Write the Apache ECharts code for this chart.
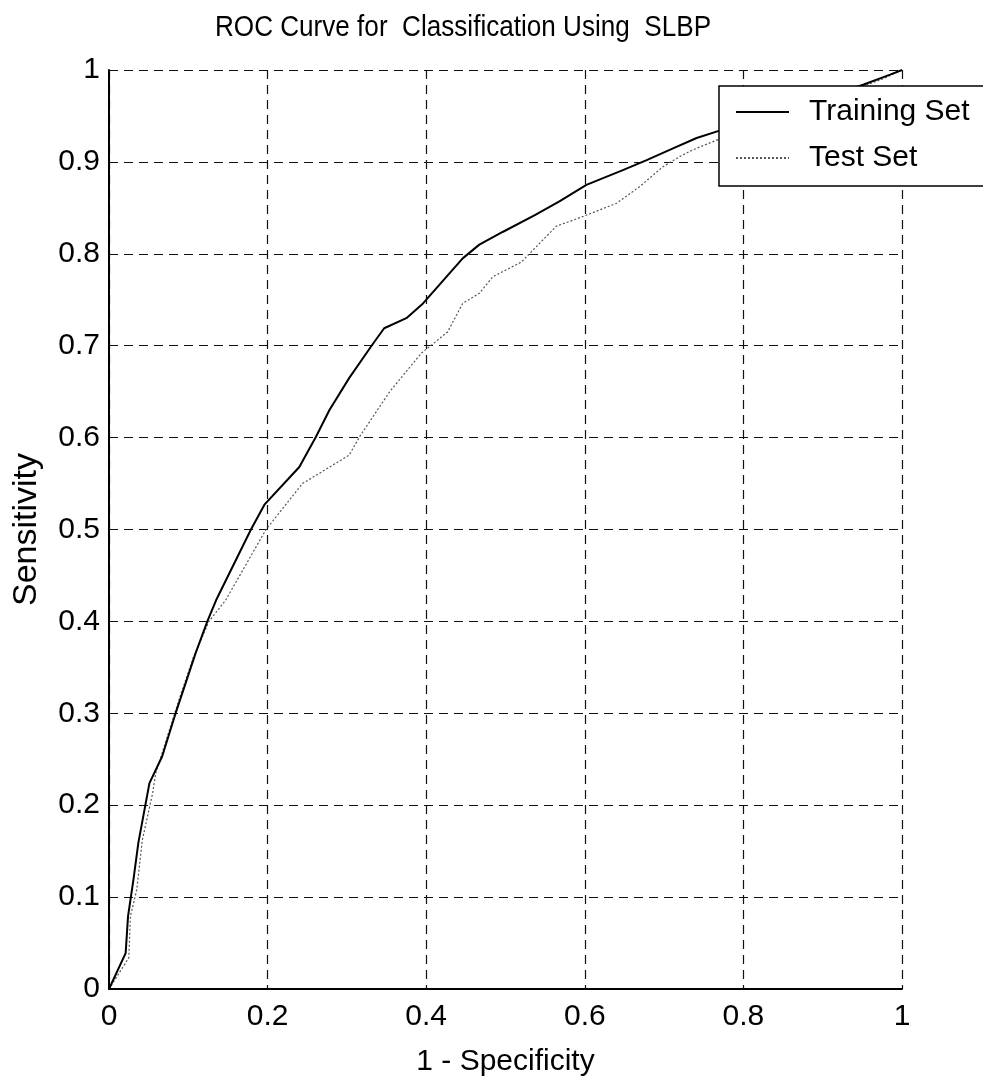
<!DOCTYPE html>
<html>
<head>
<meta charset="utf-8">
<title>ROC Curve</title>
<script src="https://cdn.jsdelivr.net/npm/echarts@6/dist/echarts.min.js"></script>
<style>
  html, body { margin: 0; padding: 0; background: #fff; }
  #chart { width: 983px; height: 1085px; }
</style>
</head>
<body>
<div id="chart"></div>
<script>
// Axis ticks
const xTickValues = [0, 0.2, 0.4, 0.6, 0.8, 1];
const yTickValues = [0, 0.1, 0.2, 0.3, 0.4, 0.5, 0.6, 0.7, 0.8, 0.9, 1];

// Series names
const seriesNames = ['Training Set', 'Test Set'];

// ROC points: [1 - specificity, sensitivity]
const trainingSet = [
  [0, 0], [0.021, 0.039], [0.024, 0.079], [0.031, 0.12], [0.037, 0.159],
  [0.051, 0.224], [0.067, 0.253], [0.084, 0.30], [0.109, 0.365], [0.124, 0.40],
  [0.135, 0.423], [0.179, 0.50], [0.196, 0.527], [0.240, 0.568], [0.261, 0.601],
  [0.278, 0.630], [0.303, 0.665], [0.332, 0.701], [0.347, 0.719], [0.375, 0.730],
  [0.396, 0.746], [0.446, 0.795], [0.467, 0.810], [0.497, 0.824], [0.537, 0.842],
  [0.568, 0.857], [0.602, 0.875], [0.648, 0.891], [0.678, 0.902], [0.707, 0.913],
  [0.741, 0.926], [0.770, 0.934], [0.86, 0.958], [0.951, 0.984], [0.985, 0.995],
  [1, 1]
];

const testSet = [
  [0, 0], [0.025, 0.034], [0.027, 0.079], [0.035, 0.108], [0.042, 0.162],
  [0.055, 0.213], [0.059, 0.235], [0.088, 0.314], [0.106, 0.36], [0.126, 0.40],
  [0.147, 0.423], [0.198, 0.50], [0.244, 0.55], [0.303, 0.581], [0.316, 0.601],
  [0.354, 0.65], [0.394, 0.692], [0.41, 0.703], [0.427, 0.715], [0.446, 0.746],
  [0.467, 0.757], [0.484, 0.775], [0.52, 0.791], [0.564, 0.83], [0.596, 0.84],
  [0.64, 0.855], [0.669, 0.873], [0.699, 0.895], [0.72, 0.906], [0.736, 0.913],
  [0.77, 0.925], [0.86, 0.952], [0.956, 0.984], [0.975, 0.99], [1, 1]
];

const chartTitle = 'ROC Curve for  Classification Using  SLBP';

const SANS = "'Liberation Sans', Arial, Helvetica, sans-serif";

const gridLine = { show: true, lineStyle: { color: '#111', width: 1.2, type: [9, 6] } };

const chart = echarts.init(document.getElementById('chart'), null, { renderer: 'canvas' });

chart.setOption({
  backgroundColor: '#ffffff',
  animation: false,
  // condensed title, drawn as a horizontally squeezed text element
  graphic: [{
    type: 'text',
    x: 215,
    y: 13,
    scaleX: 0.87,
    silent: true,
    style: {
      text: chartTitle,
      font: '30px ' + SANS,
      fill: '#000',
      textAlign: 'left',
      textVerticalAlign: 'top'
    }
  }],
  legend: {
    data: seriesNames,
    orient: 'vertical',
    left: 719,
    top: 86,
    padding: [9, 40, 11, 16],
    itemGap: 12,
    itemWidth: 53,
    itemHeight: 14,
    backgroundColor: '#ffffff',
    borderColor: '#000',
    borderWidth: 1.5,
    itemStyle: { opacity: 0 },
    textStyle: {
      fontFamily: SANS, fontSize: 30, lineHeight: 34, color: '#000',
      padding: [0, 0, 0, 15]
    }
  },
  grid: { left: 109, top: 70, right: 81, bottom: 96, containLabel: false },
  xAxis: {
    type: 'value',
    min: xTickValues[0],
    max: xTickValues[xTickValues.length - 1],
    interval: xTickValues[1] - xTickValues[0],
    name: '1 - Specificity',
    nameLocation: 'middle',
    nameGap: 58,
    nameTextStyle: { fontFamily: SANS, fontSize: 30, color: '#000' },
    axisLine: { show: true, lineStyle: { color: '#000', width: 2 } },
    axisTick: { show: false },
    axisLabel: { fontFamily: SANS, fontSize: 30, color: '#000', margin: 13 },
    splitLine: gridLine
  },
  yAxis: {
    type: 'value',
    min: yTickValues[0],
    max: yTickValues[yTickValues.length - 1],
    interval: yTickValues[1] - yTickValues[0],
    name: 'Sensitivity',
    nameLocation: 'middle',
    nameRotate: 90,
    nameGap: 65,
    nameTextStyle: { fontFamily: SANS, fontSize: 34, color: '#000' },
    axisLine: { show: true, lineStyle: { color: '#000', width: 2 } },
    axisTick: { show: false },
    axisLabel: { fontFamily: SANS, fontSize: 30, color: '#000', margin: 9 },
    splitLine: gridLine
  },
  series: [
    {
      name: seriesNames[0],
      type: 'line',
      data: trainingSet,
      symbol: 'none',
      z: 3,
      lineStyle: { color: '#000', width: 2, type: 'solid' },
      itemStyle: { color: '#000' }
    },
    {
      name: seriesNames[1],
      type: 'line',
      data: testSet,
      symbol: 'none',
      z: 2,
      lineStyle: { color: '#555', width: 1.2, type: [2, 2] },
      itemStyle: { color: '#555' }
    }
  ]
});
</script>
</body>
</html>
